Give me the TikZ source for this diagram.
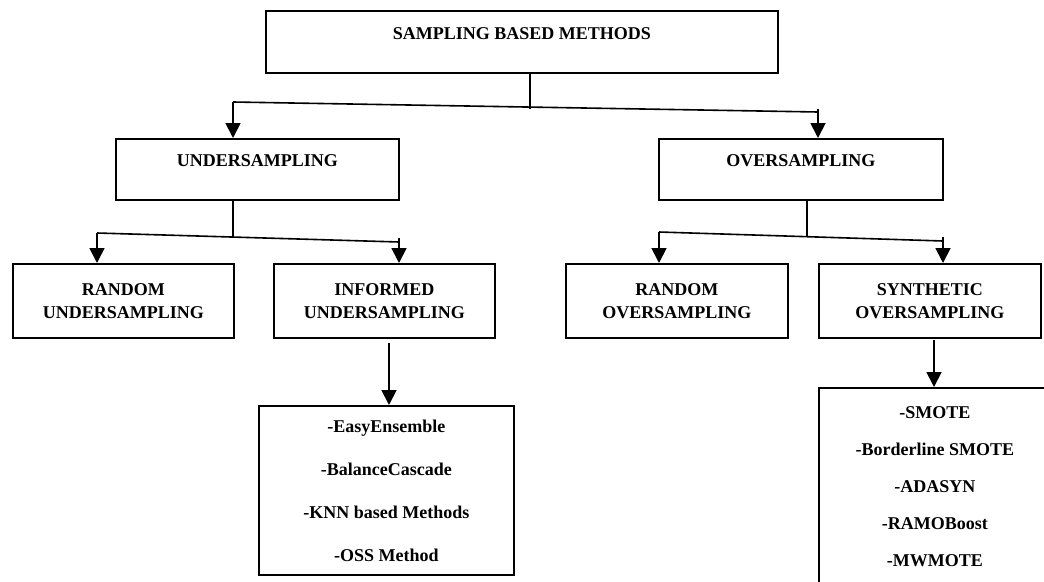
\documentclass[tikz,border=0pt]{standalone}
\usepackage{fontspec}
\setmainfont{Liberation Serif}
\usetikzlibrary{arrows.meta}
\tikzset{
  box/.style={draw, line width=1.8pt, inner sep=0pt, anchor=north west, align=center,
    font=\fontsize{18}{23}\selectfont\bfseries},
  toptext/.style={text height=12pt, text depth=17pt},
  conn/.style={line width=1.6pt},
  arr/.style={line width=1.8pt, -{Triangle[width=15pt,length=15pt]}},
}
\begin{document}
\begin{tikzpicture}[x=1pt,y=-1pt]
\clip (0,0) rectangle (1044,581);
\fill[white] (0,0) rectangle (1044,581);
% level 1
\node[box, toptext, minimum width=512pt, minimum height=62pt] (top) at (265,10) {SAMPLING BASED METHODS};
% level 2
\node[box, toptext, minimum width=283pt, minimum height=61pt] (under) at (115,138) {UNDERSAMPLING};
\node[box, toptext, minimum width=284pt, minimum height=61pt] (over) at (658,138) {OVERSAMPLING};
% level 3
\node[box, minimum width=221pt, minimum height=74pt] (rus) at (12,263) {RANDOM\\UNDERSAMPLING};
\node[box, minimum width=221pt, minimum height=74pt] (ius) at (273,263) {INFORMED\\UNDERSAMPLING};
\node[box, minimum width=222pt, minimum height=74pt] (ros) at (565,263) {RANDOM\\OVERSAMPLING};
\node[box, minimum width=222pt, minimum height=74pt] (sos) at (818,263) {SYNTHETIC\\OVERSAMPLING};
% lists
\node[box, minimum width=255pt, minimum height=169pt,
  font=\fontsize{18}{43}\selectfont\bfseries] (ilist) at (258,405)
  {-EasyEnsemble\\-BalanceCascade\\-KNN based Methods\\-OSS Method};
\node[box, minimum width=232pt, minimum height=198pt,
  font=\fontsize{18}{37}\selectfont\bfseries] (slist) at (818,387)
  {-SMOTE\\-Borderline SMOTE\\-ADASYN\\-RAMOBoost\\-MWMOTE};
% level 1 -> 2
\coordinate (s0) at (530,109);
\coordinate (j0L) at (233,102);
\coordinate (j0R) at (818,112);
\draw[conn] (top.south -| s0) -- (s0);
\draw[conn] (j0L) -- (j0R);
\draw[arr] (j0L) -- (j0L |- under.north);
\draw[arr] ([yshift=3pt]j0R) -- (j0R |- over.north);
% under -> level 3
\coordinate (s1) at (233,237);
\coordinate (j1L) at (97,233);
\coordinate (j1R) at (399,242);
\draw[conn] (under.south -| s1) -- (s1);
\draw[conn] (j1L) -- (j1R);
\draw[arr] (j1L) -- (j1L |- rus.north);
\draw[arr] ([yshift=4pt]j1R) -- (j1R |- ius.north);
% over -> level 3
\coordinate (s2) at (807,236);
\coordinate (j2L) at (659,232);
\coordinate (j2R) at (943,241);
\draw[conn] (over.south -| s2) -- (s2);
\draw[conn] (j2L) -- (j2R);
\draw[arr] (j2L) -- (j2L |- ros.north);
\draw[arr] ([yshift=4pt]j2R) -- (j2R |- sos.north);
% to lists
\coordinate (a1) at (389,343);
\coordinate (a2) at (934,340);
\draw[arr] (a1) -- (a1 |- ilist.north);
\draw[arr] (a2) -- (a2 |- slist.north);
\end{tikzpicture}
\end{document}
